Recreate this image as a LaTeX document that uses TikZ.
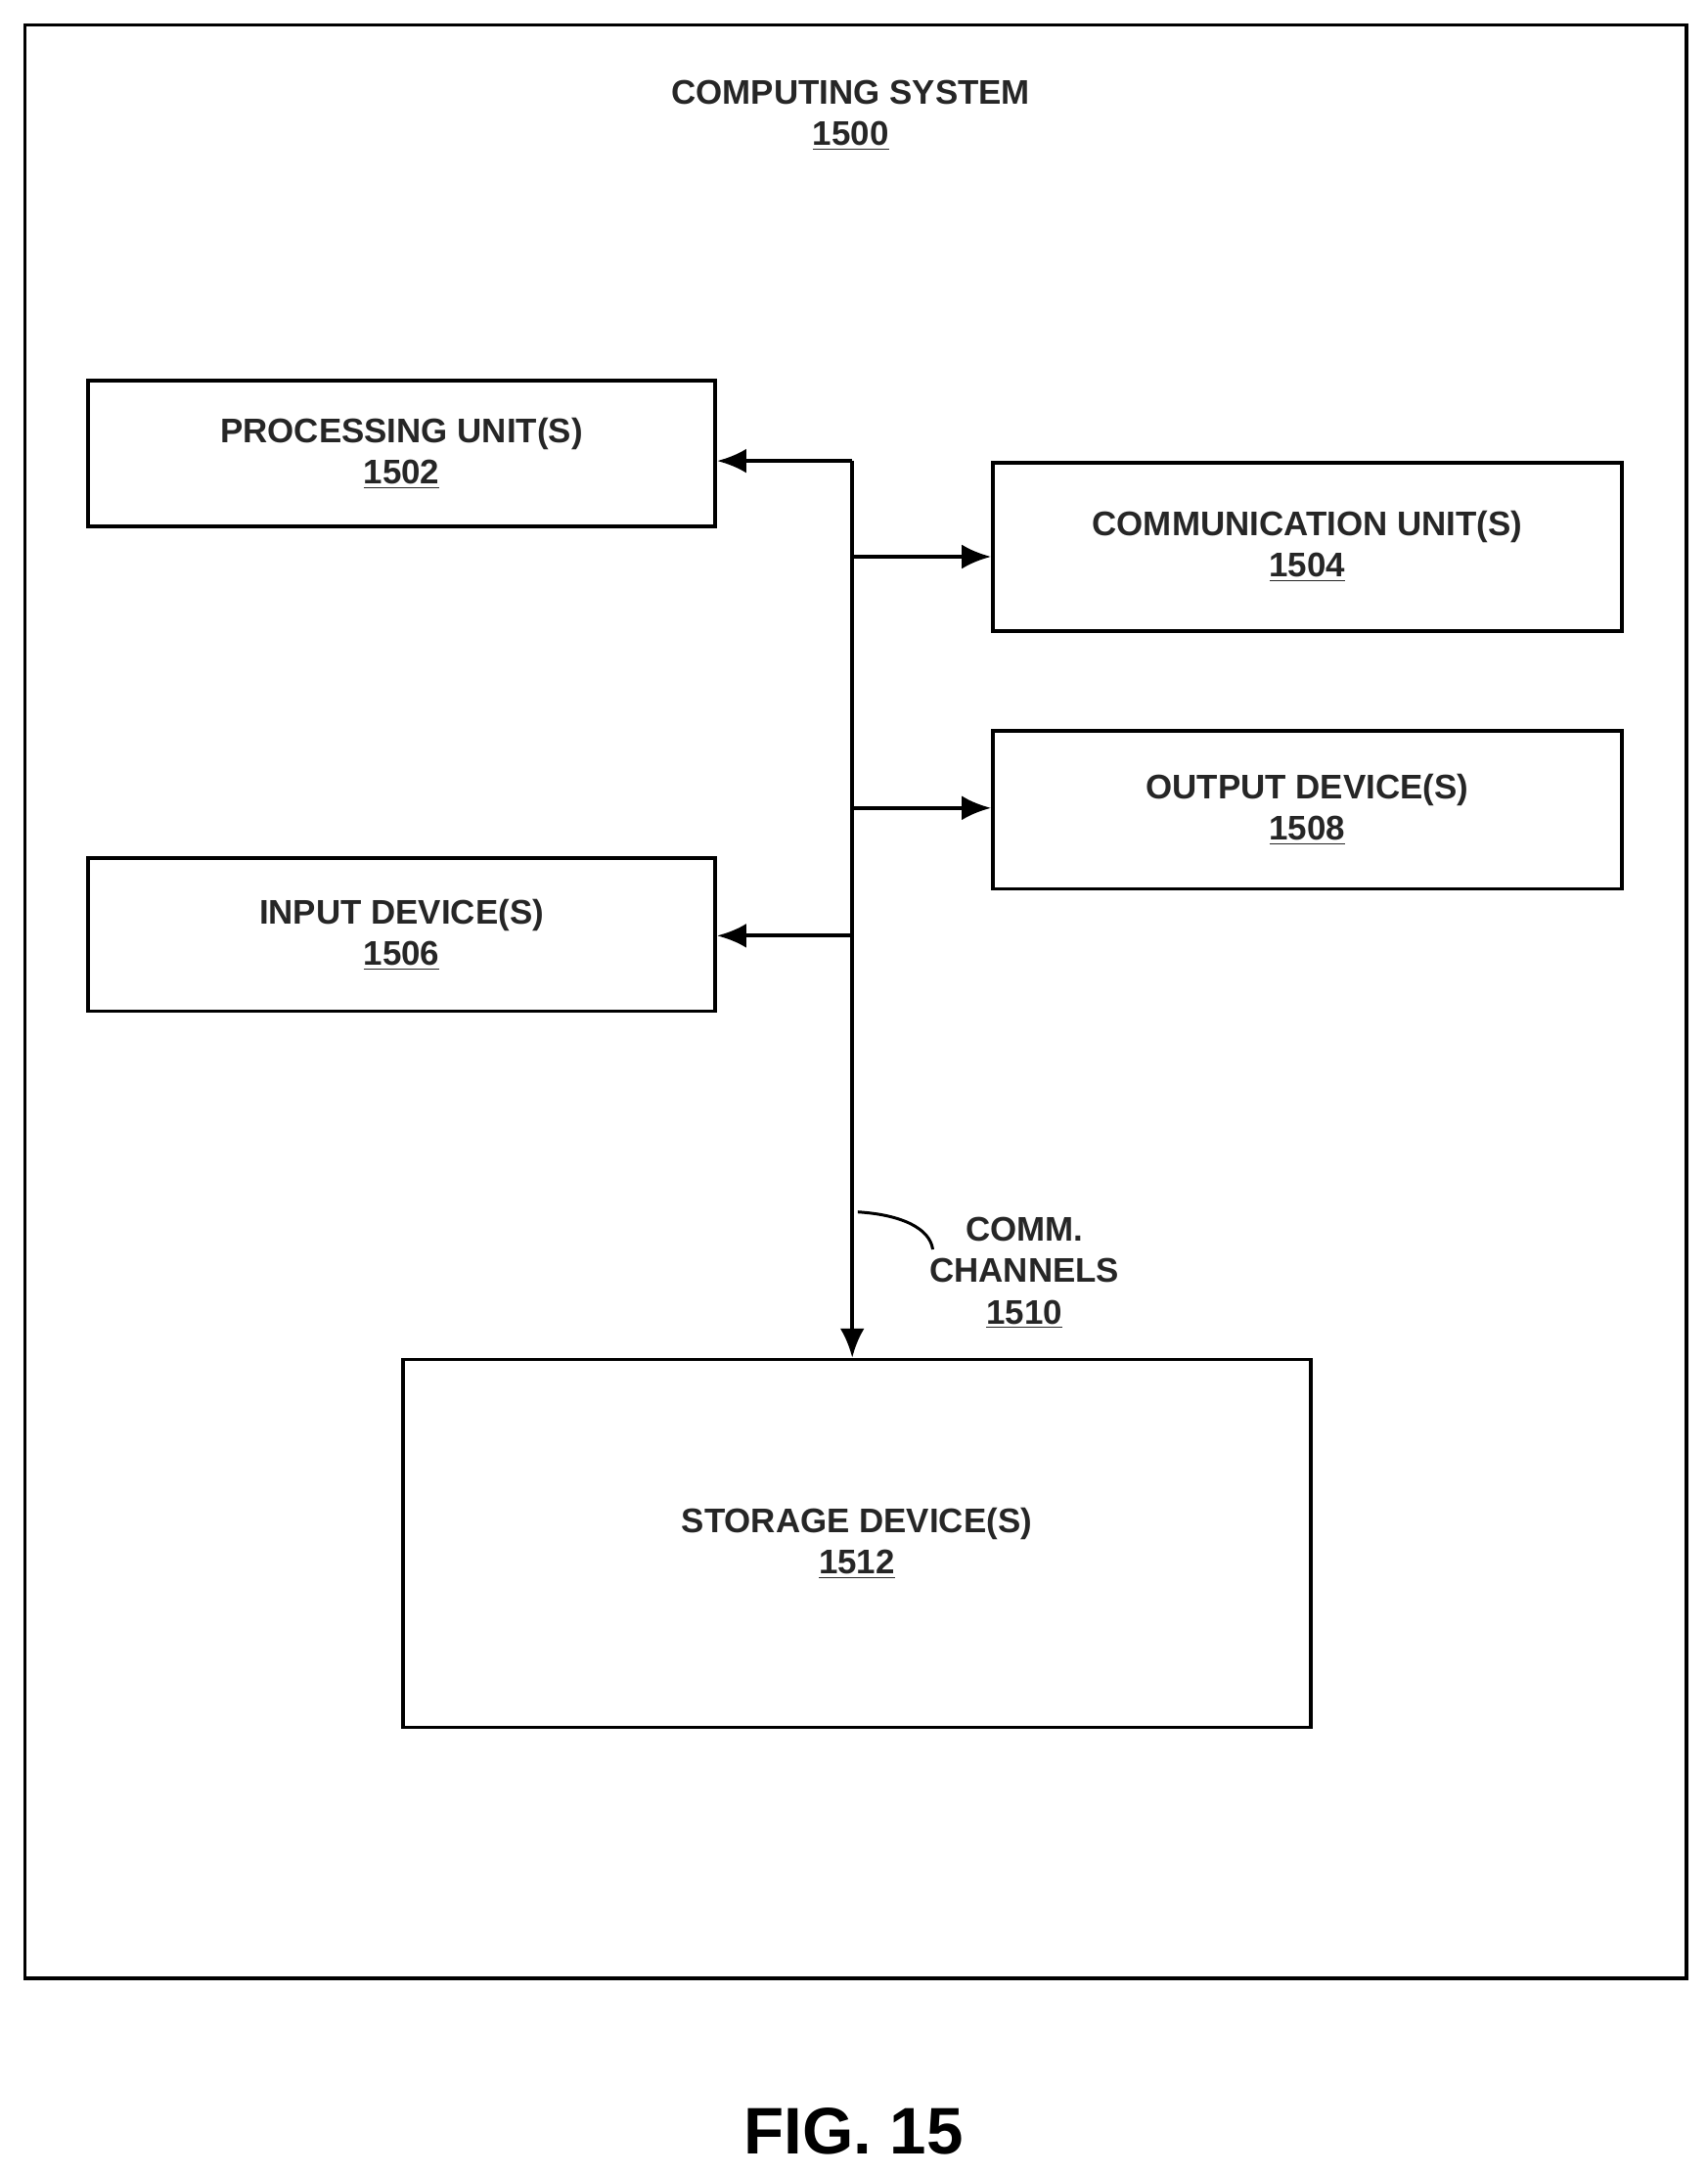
\documentclass[tikz,border=0pt]{standalone}
\usepackage{fontspec}
\setmainfont{Liberation Sans}
\usetikzlibrary{arrows.meta}
\tikzset{
    unit/.style = {draw, line width=1.5pt, inner sep=0pt, anchor=north west},
    lbl/.style = {align=center, font=\fontsize{14}{17}\selectfont\bfseries, text=black!85},
    bus/.style = {line width=1.6pt, -{Latex[length=12pt,width=10pt]}}
}
\begin{document}
\begin{tikzpicture}[x = .02cm, y = -.02cm]
                \useasboundingbox (0,0) rectangle (1230,1566);
                \draw[line width=1.5pt] (18,18) rectangle (1215,1425);
                \node[lbl] (sys) at (613,83) {COMPUTING SYSTEM\\\underline{1500}};
                % units
                \node[unit, minimum width=452*.02cm, minimum height=105*.02cm] (pu) at (62,273) {};
                \node[lbl] at (pu.center) {PROCESSING UNIT(S)\\\underline{1502}};
                \node[unit, minimum width=453*.02cm, minimum height=121*.02cm] (cu) at (714,332) {};
                \node[lbl] at (cu.center) {COMMUNICATION UNIT(S)\\\underline{1504}};
                \node[unit, minimum width=453*.02cm, minimum height=114*.02cm] (od) at (714,525) {};
                \node[lbl] at (od.center) {OUTPUT DEVICE(S)\\\underline{1508}};
                \node[unit, minimum width=452*.02cm, minimum height=110*.02cm] (id) at (62,617) {};
                \node[lbl] at (id.center) {INPUT DEVICE(S)\\\underline{1506}};
                \node[unit, minimum width=654*.02cm, minimum height=265*.02cm] (sd) at (289,978) {};
                \node[lbl] at (sd.center) {STORAGE DEVICE(S)\\\underline{1512}};
                % channels
                \coordinate (b1) at (614,332);
                \coordinate (b2) at (614,401);
                \coordinate (b3) at (614,582);
                \coordinate (b4) at (614,674);
                \draw[bus] (b1) -- (sd.north -| b1);
                \draw[bus] (b1) -- (b1 -| pu.east);
                \draw[bus] (b2) -- (b2 -| cu.west);
                \draw[bus] (b3) -- (b3 -| od.west);
                \draw[bus] (b4) -- (b4 -| id.east);
                \node[lbl] (ch) at (738,917) {COMM.\\CHANNELS\\\underline{1510}};
                \draw[line width=1.2pt] (618,873) .. controls (650,875) and (670,885) .. (672,900);
                \node[font=\fontsize{27}{32}\selectfont\bfseries] (fig) at (615,1535) {FIG. 15};
\end{tikzpicture}
\end{document}
